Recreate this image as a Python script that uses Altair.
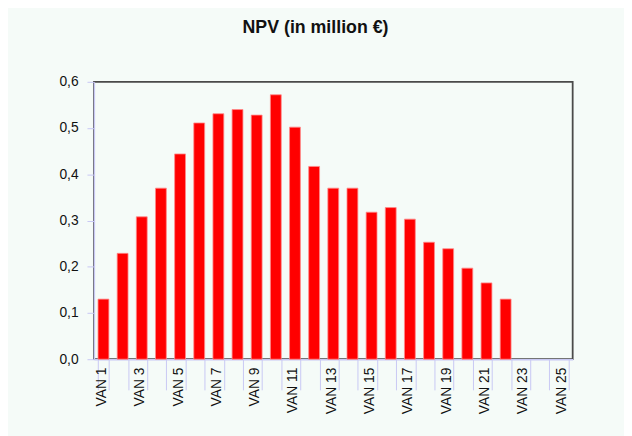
import json
import altair as alt
import pandas as pd

categories = [f"VAN {i}" for i in range(1, 26)]
values = [0.130, 0.229, 0.308, 0.370, 0.444, 0.511, 0.531, 0.540, 0.528, 0.572,
          0.502, 0.417, 0.370, 0.370, 0.318, 0.328, 0.303, 0.253, 0.239, 0.197,
          0.165, 0.130, None, None, None]
shown_labels = categories[::2]
y_ticks = [0, 0.1, 0.2, 0.3, 0.4, 0.5, 0.6]
y_tick_labels = ["0,0", "0,1", "0,2", "0,3", "0,4", "0,5", "0,6"]

df = pd.DataFrame({"cat": categories, "npv": values})

lav = "#c8c8f4"

x_label_expr = f"indexof({json.dumps(shown_labels)}, datum.value) >= 0 ? datum.value : ''"
y_label_expr = (f"indexof({json.dumps(y_ticks)}, datum.value) >= 0 ? "
                f"{json.dumps(y_tick_labels)}[indexof({json.dumps(y_ticks)}, datum.value)] : ''")

chart = alt.Chart(df).mark_bar(
    color="#ff0000", stroke="#ff8a8a", strokeWidth=0.8
).encode(
    x=alt.X("cat:N", sort=categories,
            scale=alt.Scale(domain=categories, paddingInner=0.433, paddingOuter=0.2165),
            axis=alt.Axis(title=None, labelAngle=-90, tickBand="extent",
                          tickSize=31, tickColor=lav, tickWidth=1,
                          domainColor=lav, domainWidth=1.5,
                          labelPadding=-23, labelOffset=-2,
                          labelFont="Liberation Sans", labelFontSize=14,
                          labelColor="#111111",
                          labelExpr=x_label_expr)),
    y=alt.Y("npv:Q",
            scale=alt.Scale(domain=[0, 0.6], nice=False),
            axis=alt.Axis(title=None, values=y_ticks,
                          grid=False, tickSize=7, tickColor=lav, domainColor=lav,
                          domainWidth=1.5, labelPadding=9,
                          labelFont="Liberation Sans", labelFontSize=14,
                          labelColor="#111111",
                          labelExpr=y_label_expr)),
).properties(
    width=485, height=281,
    autosize=alt.AutoSizeParams(type="none"),
    padding={"left": 87, "top": 72, "right": 52, "bottom": 75},
    background="#f5fbf8",
    title=alt.TitleParams("NPV (in million €)", font="Liberation Sans", fontSize=18,
                          fontWeight="bold", color="#111111", offset=38, dx=-18,
                          anchor="middle"),
).configure_view(
    stroke="#4a4a4a", strokeWidth=1.8
)

chart.save("out.html", embed_options={"renderer": "svg", "actions": False})
